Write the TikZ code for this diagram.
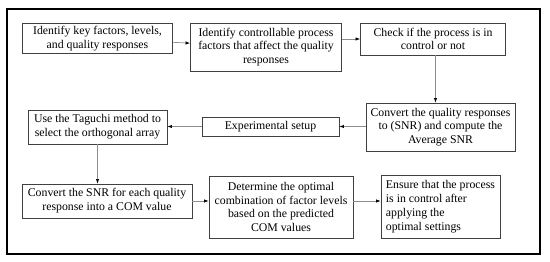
\documentclass[tikz,border=0pt]{standalone}
\usepackage{fontspec}
\setmainfont{Liberation Serif}
\usetikzlibrary{arrows.meta,positioning,calc}

\begin{document}
\begin{tikzpicture}[x=1pt,y=-1pt,font=\fontsize{11.8}{13.8}\selectfont,
box/.style={draw=black!75,line width=0.8pt,align=center,inner xsep=1pt,inner ysep=1pt},
arrow/.style={-{Latex[length=1.6mm,width=1.2mm,color=black]},draw=black!45,line width=0.7pt}]
\useasboundingbox (0,0) rectangle (550,262);
\draw[line width=2pt] (7,9) rectangle (539.5,254);
% top row
\node[box,minimum width=150,minimum height=30] (key) at (97.5,38.5) {Identify key factors, levels,\\and quality responses};
\node[box,minimum width=151,minimum height=48] (ctrl) at (266,47) {Identify controllable process\\factors that affect the quality\\responses};
\node[box,minimum width=145,minimum height=32] (check) at (433,39) {Check if the process is in\\control or not};
% middle row
\node[box,minimum width=149,minimum height=48] (snr) at (440.5,127) {Convert the quality responses\\to (SNR) and compute the\\Average SNR};
\node[box,minimum width=137,minimum height=19] (setup) at (270.5,126.5) {Experimental setup};
\node[box,minimum width=139,minimum height=34] (taguchi) at (97.5,127) {Use the Taguchi method to\\select the orthogonal array};
% bottom row
\node[box,minimum width=170,minimum height=34] (com) at (107,201) {Convert the SNR for each quality\\response into a COM value};
\node[box,minimum width=144,minimum height=62] (optimal) at (281,207) {Determine the optimal\\combination of factor levels\\based on the predicted\\COM values};
\node[box,minimum width=119,minimum height=63,align=left] (ensure) at (440.5,206.5) {Ensure that the process\\is in control after\\applying the\\optimal settings};
\draw[arrow] (key) -- (ctrl);
\draw[arrow] (ctrl.east |- check.west) -- (check.west);
\draw[arrow] ([xshift=2.5]check.south) -- ([xshift=2.5]check.south |- snr.north);
\draw[arrow] (snr.west |- setup.east) -- (setup.east);
\draw[arrow] (setup.west) -- (setup.west -| taguchi.east);
\draw[arrow] (taguchi.south) -- (taguchi.south |- com.north);
\draw[arrow] (com.east) -- (com.east -| optimal.west);
\draw[arrow] (optimal.east |- com.east) -- (com.east -| ensure.west);
\end{tikzpicture}
\end{document}
